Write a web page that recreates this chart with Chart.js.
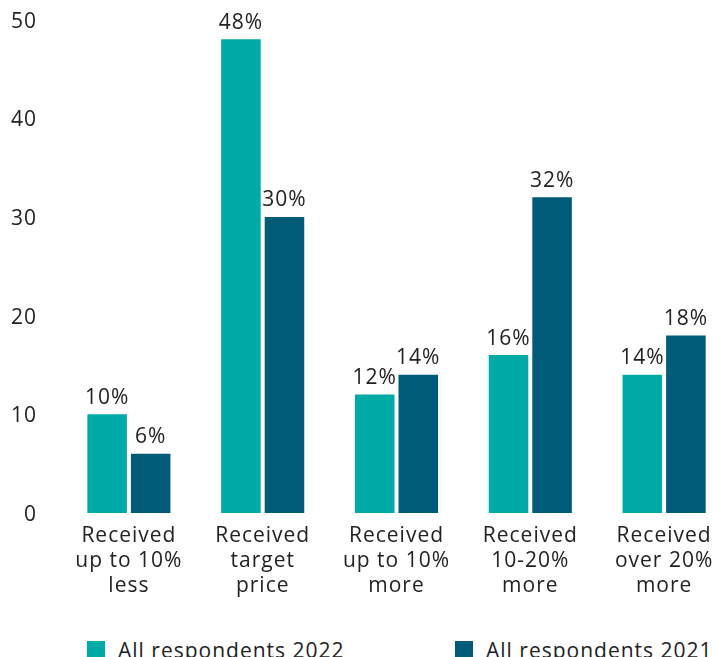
<!DOCTYPE html>
<html>
<head>
<meta charset="utf-8">
<script src="https://cdn.jsdelivr.net/npm/chart.js@4"></script>
<style>
  html, body { margin: 0; padding: 0; background: #fff; overflow: hidden; }
  #wrap { position: absolute; left: 0; top: -18px; width: 731px; height: 638px; }
  #legend { position: absolute; left: 0; top: 638px; font: 21px "Open Sans", sans-serif; color: #222; letter-spacing: 1px; }
  .item { position: absolute; top: 0; white-space: nowrap; line-height: 24px; }
  .swatch { display: inline-block; width: 18px; height: 18px; vertical-align: -1px; margin-right: 13px; }
</style>
</head>
<body>
<div id="wrap"><canvas id="priceChart" width="731" height="638"></canvas></div>
<div id="legend"></div>
<script>
// categories, one array of lines per label
const categories = [
  ["Received", "up to 10%", "less"],
  ["Received", "target", "price"],
  ["Received", "up to 10%", "more"],
  ["Received", "10-20%", "more"],
  ["Received", "over 20%", "more"]
];
const seriesNames = ["All respondents 2022", "All respondents 2021"];
const values2022 = [10, 48, 12, 16, 14];
const values2021 = [6, 30, 14, 32, 18];
const yTicks = [0, 10, 20, 30, 40, 50];

const colors = ["#00aaa7", "#005b78"];
const textColor = "#222";
const font = "Open Sans";

// a little extra tracking on all canvas text
const tracking = {
  id: "tracking",
  beforeLayout(chart) { chart.ctx.letterSpacing = "1px"; },
  beforeDraw(chart) { chart.ctx.letterSpacing = "1px"; }
};

// write "xx%" above every bar
const valueLabels = {
  id: "valueLabels",
  afterDatasetsDraw(chart) {
    const ctx = chart.ctx;
    ctx.save();
    ctx.font = `21px "${font}"`;
    ctx.fillStyle = textColor;
    ctx.textAlign = "center";
    ctx.textBaseline = "alphabetic";
    chart.data.datasets.forEach((ds, i) => {
      chart.getDatasetMeta(i).data.forEach((bar, j) => {
        ctx.fillText(ds.data[j] + "%", bar.x, bar.y - 10.5);
      });
    });
    ctx.restore();
  }
};

const ctx = document.getElementById("priceChart").getContext("2d");

const priceChart = new Chart(ctx, {
  type: "bar",
  data: {
    labels: categories,
    datasets: [
      { label: seriesNames[0], data: values2022, backgroundColor: colors[0] },
      { label: seriesNames[1], data: values2021, backgroundColor: colors[1] }
    ]
  },
  options: {
    responsive: false,
    animation: false,
    events: [],
    layout: { padding: { top: 2, right: 0, bottom: 0, left: 0 } },
    datasets: {
      bar: { categoryPercentage: 0.651, barPercentage: 0.908 }
    },
    plugins: {
      legend: { display: false },
      tooltip: { enabled: false }
    },
    scales: {
      x: {
        grid: { display: false, drawTicks: false },
        border: { display: false },
        ticks: {
          color: textColor,
          padding: 10,
          maxRotation: 0,
          autoSkip: false,
          font: { family: font, size: 21, lineHeight: 1.2 }
        },
        afterFit: (s) => { s.height = 107; }
      },
      y: {
        min: 0,
        max: 50,
        grid: { display: false, drawTicks: false },
        border: { display: false },
        afterBuildTicks: (s) => { s.ticks = yTicks.map(v => ({ value: v })); },
        ticks: {
          color: textColor,
          padding: 25,
          labelOffset: 2,
          font: { family: font, size: 21 }
        },
        afterFit: (s) => { s.width = 62; }
      }
    }
  },
  plugins: [tracking, valueLabels]
});

// legend below the chart
const legendEl = document.getElementById("legend");
const legendX = [87, 455];
priceChart.data.datasets.forEach((ds, i) => {
  const item = document.createElement("div");
  item.className = "item";
  item.style.left = legendX[i] + "px";
  item.innerHTML = `<span class="swatch" style="background:${ds.backgroundColor}"></span>${ds.label}`;
  legendEl.appendChild(item);
});
</script>
</body>
</html>
